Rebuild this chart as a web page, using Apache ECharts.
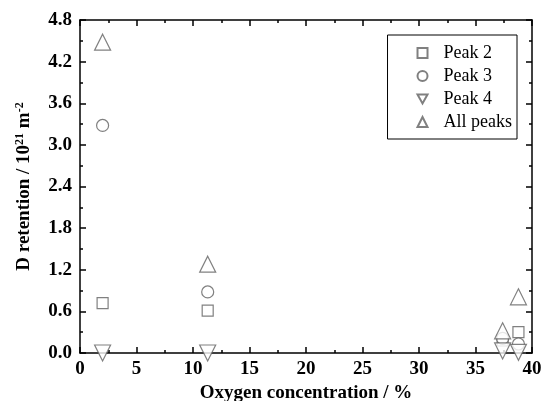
<!DOCTYPE html>
<html><head><meta charset="utf-8">
<script src="https://cdn.jsdelivr.net/npm/echarts@6/dist/echarts.min.js"></script>
<style>html,body{margin:0;padding:0;background:#fff}#c{width:547px;height:401px}</style>
</head><body><div id="c"></div>
<script>
var xPeak2 = [2, 11.3, 37.4, 38.8];
var peak2 = [0.72, 0.61, 0.18, 0.30];
var xPeak3 = [2, 11.3, 37.4, 38.8];
var peak3 = [3.28, 0.88, 0.21, 0.13];
var xPeak4 = [2, 11.3, 37.4, 38.8];
var peak4 = [0.0, 0.0, 0.03, 0.01];
var xAll = [2, 11.3, 37.4, 38.8];
var allPeaks = [4.48, 1.28, 0.32, 0.81];
var seriesNames = ['Peak 2', 'Peak 3', 'Peak 4', 'All peaks'];

function pairs(xs, ys){ return xs.map(function(x,i){ return [x, ys[i]]; }); }

var font = 'Liberation Serif';
var markColor = '#606060';
function sc(name, xs, ys, symbol, rot, size){
  return {
    name: name, type: 'scatter', data: pairs(xs, ys),
    symbol: symbol, symbolSize: size, symbolRotate: rot,
    itemStyle: {color: '#fff', borderColor: markColor, borderWidth: 1.2},
    emphasis: {disabled: true}, z: 3
  };
}
var axisCommon = {
  axisLine: {onZero: false, lineStyle: {color: '#000', width: 1.5}},
  axisTick: {inside: true, length: 6, lineStyle: {color: '#000', width: 1.5}},
  minorTick: {show: true, splitNumber: 2, length: 3, lineStyle: {color: '#000', width: 1.5}},
  splitLine: {show: false}
};
function ax(o){ return Object.assign({}, axisCommon, o); }
var chart = echarts.init(document.getElementById('c'));
chart.setOption({
  animation: false,
  backgroundColor: '#fff',
  grid: {left: 80, right: 15, top: 20, bottom: 48, containLabel: false, outerBoundsMode: 'none'},
  legend: {
    orient: 'vertical', right: 30, top: 35,
    data: [
      {name: seriesNames[0]},
      {name: seriesNames[1]},
      {name: seriesNames[2], icon: 'path://M0,0L10,0L5,9Z'},
      {name: seriesNames[3]}
    ],
    borderColor: '#000', borderWidth: 1,
    padding: [9, 5, 8, 29],
    itemGap: 5, itemWidth: 10, itemHeight: 10,
    textStyle: {fontFamily: font, fontSize: 18, color: '#000', padding: [0,0,0,11]}
  },
  xAxis: [ax({
    type: 'value', min: 0, max: 40, interval: 5,
    name: 'Oxygen concentration / %', nameLocation: 'middle', nameGap: 29,
    nameTextStyle: {fontFamily: font, fontSize: 19, fontWeight: 'bold', color: '#000'},
    axisLabel: {fontFamily: font, fontSize: 19, fontWeight: 'bold', color: '#000', margin: 7}
  }), ax({
    type: 'value', min: 0, max: 40, interval: 5, position: 'top',
    axisLabel: {show: false}
  })],
  yAxis: [ax({
    type: 'value', min: 0, max: 4.8, interval: 0.6,
    name: '{a|D retention / 10}{s|21}{a| m}{s|-2}', nameLocation: 'middle', nameGap: 46, nameRotate: 90,
    nameTextStyle: {
      rich: {
        a: {fontFamily: font, fontSize: 19, fontWeight: 'bold', color: '#000', lineHeight: 20},
        s: {fontFamily: font, fontSize: 12, fontWeight: 'bold', color: '#000', verticalAlign: 'top', lineHeight: 12}
      }
    },
    axisLabel: {fontFamily: font, fontSize: 19, fontWeight: 'bold', color: '#000', margin: 8,
      formatter: function(v){ return v.toFixed(1); }}
  }), ax({
    type: 'value', min: 0, max: 4.8, interval: 0.6, position: 'right',
    axisLabel: {show: false}
  })],
  series: [
    sc(seriesNames[0], xPeak2, peak2, 'rect', 0, 11),
    sc(seriesNames[1], xPeak3, peak3, 'circle', 0, 12),
    sc(seriesNames[2], xPeak4, peak4, 'triangle', 180, 16),
    sc(seriesNames[3], xAll, allPeaks, 'triangle', 0, 16)
  ]
});
</script></body></html>
